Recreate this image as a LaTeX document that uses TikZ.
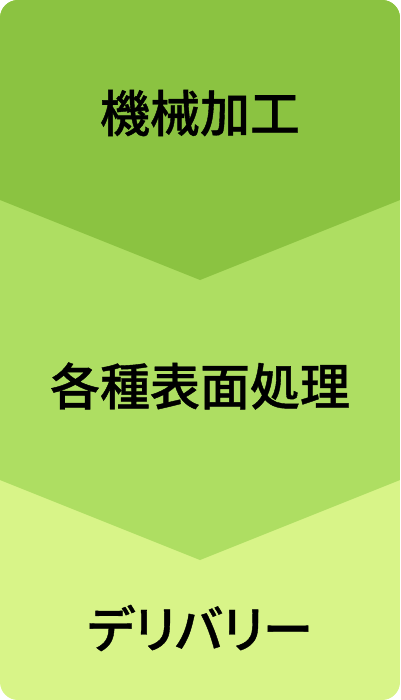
\documentclass[tikz,border=0pt]{standalone}
\usepackage{fontspec}
\newfontfamily\cjk{Noto Sans CJK JP Medium}[FakeBold=0.8]
\newfontfamily\cjkp{Noto Sans CJK JP Medium}[RawFeature=+palt,FakeBold=0.8]
\definecolor{cTop}{RGB}{139,195,65}
\definecolor{cMid}{RGB}{174,222,98}
\definecolor{cBot}{RGB}{216,244,136}
\tikzset{label/.style={font=\cjk\fontsize{50}{60}\selectfont, text=black, inner sep=0pt, anchor=center}}
\begin{document}
\begin{tikzpicture}[x=1pt,y=-1pt]
\useasboundingbox (0,0) rectangle (400,700);
\begin{scope}
\clip[rounded corners=18pt] (0,0) rectangle (400,700);
\fill[cBot] (0,0) rectangle (400,700);
\fill[cMid] (0,0) -- (400,0) -- (400,480) -- (200,560) -- (0,480) -- cycle;
\fill[cTop] (0,0) -- (400,0) -- (400,200) -- (200,280) -- (0,200) -- cycle;
\end{scope}
\node[label] (a) at (200,113) {機械加工};
\node[label] (b) at (200,386) {各種表面処理};
\node[label, font=\cjkp\fontsize{50}{60}\selectfont] (c) at (200,628) {デリバリー};
\end{tikzpicture}
\end{document}
